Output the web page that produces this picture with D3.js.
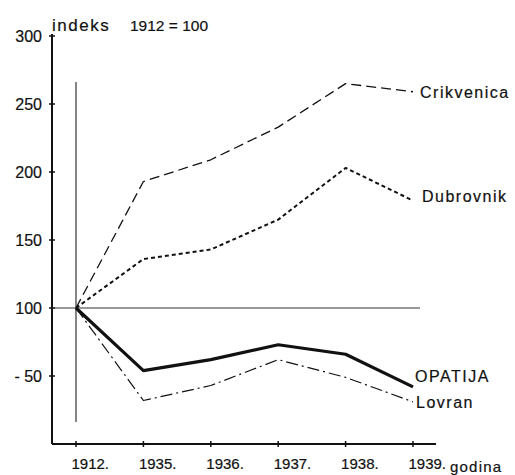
<!DOCTYPE html>
<html><head><meta charset="utf-8">
<script src="https://cdn.jsdelivr.net/npm/d3@7"></script>
<style>body{margin:0;background:#fff}svg{display:block}text{font-family:"Liberation Sans",Arial,sans-serif;fill:#111;stroke:#111;stroke-width:0.2px}</style>
</head><body><svg id="c" width="515" height="475"></svg>
<script>
const years = ["1912.", "1935.", "1936.", "1937.", "1938.", "1939."];
const yTickValues = [50, 100, 150, 200, 250, 300];
const yTickLabels = ["- 50", "100", "150", "200", "250", "300"];
const crikvenica = [100, 193, 209, 233, 265, 259];
const dubrovnik = [100, 136, 143, 165, 203, 179];
const opatija = [100, 54, 62, 73, 66, 42];
const lovran = [100, 32, 43, 62, 49, 31];
const seriesNames = ["Crikvenica", "Dubrovnik", "OPATIJA", "Lovran"];

const svg = d3.select("#c");
const x = d3.scalePoint().domain(years).range([76, 413]);
const y = d3.scaleLinear().domain([0, 300]).range([444, 36]);
const ink = "#111";

// axes
const yAxis = svg.append("g").attr("transform", "translate(52,0)")
  .call(d3.axisLeft(y).tickValues(yTickValues).tickFormat((d,i)=>yTickLabels[i]).tickSize(0).tickPadding(10));
yAxis.select(".domain").remove();
yAxis.selectAll("text").attr("font-size", 16).attr("fill", ink).attr("font-family",null);
svg.append("line").attr("x1",52).attr("x2",52).attr("y1",y(300)-2).attr("y2",y(0)).attr("stroke",ink).attr("stroke-width",2);
svg.selectAll(".yt").data(yTickValues).join("line").attr("x1",49).attr("x2",55)
  .attr("y1",d=>y(d)).attr("y2",d=>y(d)).attr("stroke",ink).attr("stroke-width",1.5);

const xAxis = svg.append("g").attr("transform", `translate(0,${y(0)})`)
  .call(d3.axisBottom(x).tickSize(0).tickPadding(14));
xAxis.select(".domain").remove();
xAxis.selectAll("text").attr("font-size", 15).attr("fill", ink).attr("font-family",null)
  .attr("text-anchor","start").attr("dx",-5);
svg.append("line").attr("x1",52).attr("x2",436).attr("y1",y(0)).attr("y2",y(0)).attr("stroke",ink).attr("stroke-width",2);
svg.selectAll(".xt").data(years).join("line").attr("x1",d=>x(d)).attr("x2",d=>x(d))
  .attr("y1",y(0)-3).attr("y2",y(0)+3).attr("stroke",ink).attr("stroke-width",1.5);
svg.append("text").attr("x",450).attr("y",472).attr("font-size",15).attr("letter-spacing",1.2).text("godina");

// reference lines
svg.append("line").attr("x1",x(years[0])).attr("x2",x(years[0])).attr("y1",82).attr("y2",422)
  .attr("stroke","#333").attr("stroke-width",1.2);
svg.append("line").attr("x1",52).attr("x2",420).attr("y1",y(100)).attr("y2",y(100))
  .attr("stroke","#333").attr("stroke-width",1.2);

// title
svg.append("text").attr("x",52).attr("y",31).attr("font-size",17).attr("letter-spacing",1.5).text("indeks");
svg.append("text").attr("x",130).attr("y",31).attr("font-size",15.5).text("1912 = 100");

const line = d3.line().x((d,i)=>x(years[i])).y(d=>y(d));
const styles = [
  {data: crikvenica, w: 1.3, dash: "10,5"},
  {data: dubrovnik, w: 2, dash: "4,3"},
  {data: opatija, w: 3.2, dash: null},
  {data: lovran, w: 1.2, dash: "12,4,2,4"}
];
styles.forEach(s=>{
  svg.append("path").attr("d", line(s.data)).attr("fill","none").attr("stroke",ink)
    .attr("stroke-width", s.w).attr("stroke-dasharray", s.dash).attr("stroke-linejoin","round");
});
const labelPos = [[420,98],[422,202],[415,382],[416,408]];
seriesNames.forEach((n,i)=>{
  svg.append("text").attr("x",labelPos[i][0]).attr("y",labelPos[i][1]).attr("font-size",16)
    .attr("letter-spacing", 1.5).text(n);
});
</script></body></html>
